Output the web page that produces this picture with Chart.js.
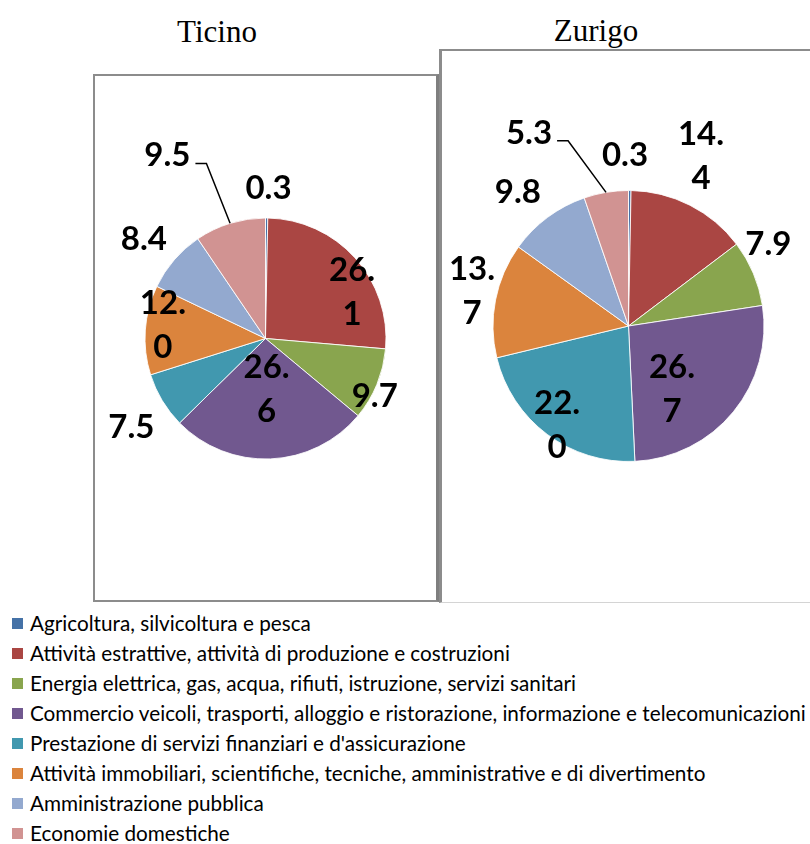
<!DOCTYPE html>
<html>
<head>
<meta charset="utf-8">
<script src="https://cdn.jsdelivr.net/npm/chart.js@4/dist/chart.umd.min.js"></script>
<style>
  html, body { margin: 0; padding: 0; background: #fff; }
  body { width: 810px; height: 844px; position: relative; overflow: hidden; font-family: Lato, "Open Sans", sans-serif; }
  .title { position: absolute; font-family: "Liberation Serif", "Times New Roman", serif; font-size: 31px; line-height: 31px; color: #000; transform: translateX(-50%); white-space: nowrap; }
  .box { position: absolute; box-sizing: border-box; }
  #boxT { left: 93px; top: 74px; width: 346px; height: 528px; border-left: 2px solid #8c8c8c; border-top: 2px solid #8c8c8c; border-bottom: 2px solid #8c8c8c; border-right: 3px solid #7f7f7f; }
  #boxZ { left: 439px; top: 49px; width: 380px; height: 554px; border-left: 3px solid #8c8c8c; border-top: 2px solid #8c8c8c; border-bottom: 1px solid #d4d4d4; }
  canvas { position: absolute; }
  #legend { position: absolute; left: 0; top: 0; }
  .lg-row { position: absolute; left: 0; white-space: nowrap; }
  .lg-sq { position: absolute; left: 12px; width: 11px; height: 11px; }
  .lg-tx { position: absolute; left: 30px; font-family: Lato, sans-serif; color: #000; line-height: 22px; white-space: nowrap; }
</style>
</head>
<body>
<div class="box" id="boxT"></div>
<div class="box" id="boxZ"></div>
<div class="title" id="titleT" style="left:217px; top:16px;"></div>
<div class="title" id="titleZ" style="left:596px; top:15px;"></div>
<canvas id="pieT" width="345" height="527" style="left:93px; top:75px;"></canvas>
<canvas id="pieZ" width="379" height="552" style="left:439px; top:50px;"></canvas>
<div id="legend"></div>
<script>
// ---- data ----
const categories = [
  "Agricoltura, silvicoltura e pesca",
  "Attività estrattive, attività di produzione e costruzioni",
  "Energia elettrica, gas, acqua, rifiuti, istruzione, servizi sanitari",
  "Commercio veicoli, trasporti, alloggio e ristorazione, informazione e telecomunicazioni",
  "Prestazione di servizi finanziari e d'assicurazione",
  "Attività immobiliari, scientifiche, tecniche, amministrative e di divertimento",
  "Amministrazione pubblica",
  "Economie domestiche"
];
const ticinoValues = [0.3, 26.1, 9.7, 26.6, 7.5, 12.0, 8.4, 9.5];
const zurigoValues = [0.3, 14.4, 7.9, 26.7, 22.0, 13.7, 9.8, 5.3];
const chartTitles = ["Ticino", "Zurigo"];

// ---- styles ----
const sliceColors = ["#4572A7", "#AA4643", "#89A54E", "#71588F", "#4198AF", "#DB843D", "#93A9CF", "#D19392"];
// label placement: angle offset from slice middle (deg), distance as fraction of radius
const ticinoPlace = {
  delta: [0.6, 13.2, 4.9, 1.1, -2.2, 4.1, -1.1, -11.0],
  dist:  [1.26, 0.82, 1.02, 0.41, 1.33, 0.86, 1.31, 1.73],
  wrap:  [false, true, false, true, false, true, false, false],
  leader:[false, false, false, false, false, false, false, true]
};
const zurigoPlace = {
  delta: [-1.7, -4.0, -7.7, 15.7, -0.8, 1.9, -2.6, -17.6],
  dist:  [1.27, 1.37, 1.20, 0.56, 0.895, 1.185, 1.29, 1.61],
  wrap:  [false, true, false, true, true, true, false, false],
  leader:[false, false, false, false, false, false, false, true]
};

const LABEL_SIZE = 33;
const pieLabels = {
  id: 'pieLabels',
  afterDatasetsDraw(chart, args, opts) {
    const ctx = chart.ctx;
    const meta = chart.getDatasetMeta(0);
    const vals = chart.data.datasets[0].data;
    const pl = opts.place;
    ctx.save();
    ctx.font = 'bold ' + opts.size + 'px Lato';
    ctx.fillStyle = '#000';
    ctx.textAlign = 'center';
    ctx.textBaseline = 'alphabetic';
    const capH = 0.7165 * opts.size;
    meta.data.forEach((arc, i) => {
      const p = arc.getProps(['x', 'y', 'startAngle', 'endAngle', 'outerRadius'], true);
      const mid = (p.startAngle + p.endAngle) / 2;
      const a = mid + pl.delta[i] * Math.PI / 180;
      const cx = p.x + Math.cos(a) * pl.dist[i] * p.outerRadius;
      const cy = p.y + Math.sin(a) * pl.dist[i] * p.outerRadius;
      const txt = vals[i].toFixed(1);
      const dot = txt.indexOf('.') + 1;
      const lines = pl.wrap[i] ? [txt.slice(0, dot), txt.slice(dot)] : [txt];
      const n = lines.length;
      lines.forEach((ln, k) => {
        const ly = cy + (k - (n - 1) / 2) * opts.lineGap + capH / 2;
        ctx.fillText(ln, cx, ly);
      });
      if (pl.leader[i]) {
        const w = ctx.measureText(txt).width;
        const sx = cx + w / 2 + 5, sy = cy + 9;
        const ex = p.x + Math.cos(mid) * p.outerRadius;
        const ey = p.y + Math.sin(mid) * p.outerRadius;
        ctx.beginPath();
        ctx.moveTo(sx, sy);
        ctx.lineTo(sx + 11, sy);
        ctx.lineTo(ex, ey);
        ctx.strokeStyle = '#000';
        ctx.lineWidth = 1.5;
        ctx.stroke();
      }
    });
    ctx.restore();
  }
};

function makePie(id, values, radius, place) {
  return new Chart(document.getElementById(id), {
    type: 'pie',
    data: {
      labels: categories,
      datasets: [{
        data: values,
        backgroundColor: sliceColors,
        borderColor: 'rgba(255,255,255,0.85)',
        borderWidth: 1,
        radius: radius
      }]
    },
    options: {
      responsive: false,
      animation: false,
      events: [],
      layout: { padding: 0 },
      plugins: {
        legend: { display: false },
        tooltip: { enabled: false },
        title: { display: false },
        pieLabels: { place: place, size: LABEL_SIZE, lineGap: 44 }
      }
    },
    plugins: [pieLabels]
  });
}

function buildLegend() {
  const lg = document.getElementById('legend');
  const texts = [];
  categories.forEach((c, i) => {
    const row = document.createElement('div');
    row.className = 'lg-row';
    row.style.top = (i * 30) + 'px';
    const sq = document.createElement('div');
    sq.className = 'lg-sq';
    sq.style.top = '618px';
    sq.style.background = sliceColors[i];
    const tx = document.createElement('div');
    tx.className = 'lg-tx';
    tx.style.top = '612px';
    tx.style.fontSize = '18px';
    tx.textContent = c;
    row.appendChild(sq);
    row.appendChild(tx);
    lg.appendChild(row);
    texts.push(tx);
  });
  // fit the longest entry to the reference width (776px)
  let maxW = 0;
  texts.forEach(t => { maxW = Math.max(maxW, t.getBoundingClientRect().width); });
  if (maxW > 0) {
    const size = Math.max(16, Math.min(21, 18 * 776 / maxW));
    texts.forEach(t => { t.style.fontSize = size.toFixed(2) + 'px'; });
  }
}

function init() {
  document.getElementById('titleT').textContent = chartTitles[0];
  document.getElementById('titleZ').textContent = chartTitles[1];
  buildLegend();
  makePie('pieT', ticinoValues, 120.5, ticinoPlace);
  makePie('pieZ', zurigoValues, 135.5, zurigoPlace);
}

const fontsReady = (document.fonts && document.fonts.load)
  ? Promise.all([document.fonts.load('bold 33px Lato'), document.fonts.load('18px Lato'), document.fonts.load('31px "Liberation Serif"')]).catch(() => {})
  : Promise.resolve();
fontsReady.then(init);
</script>
</body>
</html>
